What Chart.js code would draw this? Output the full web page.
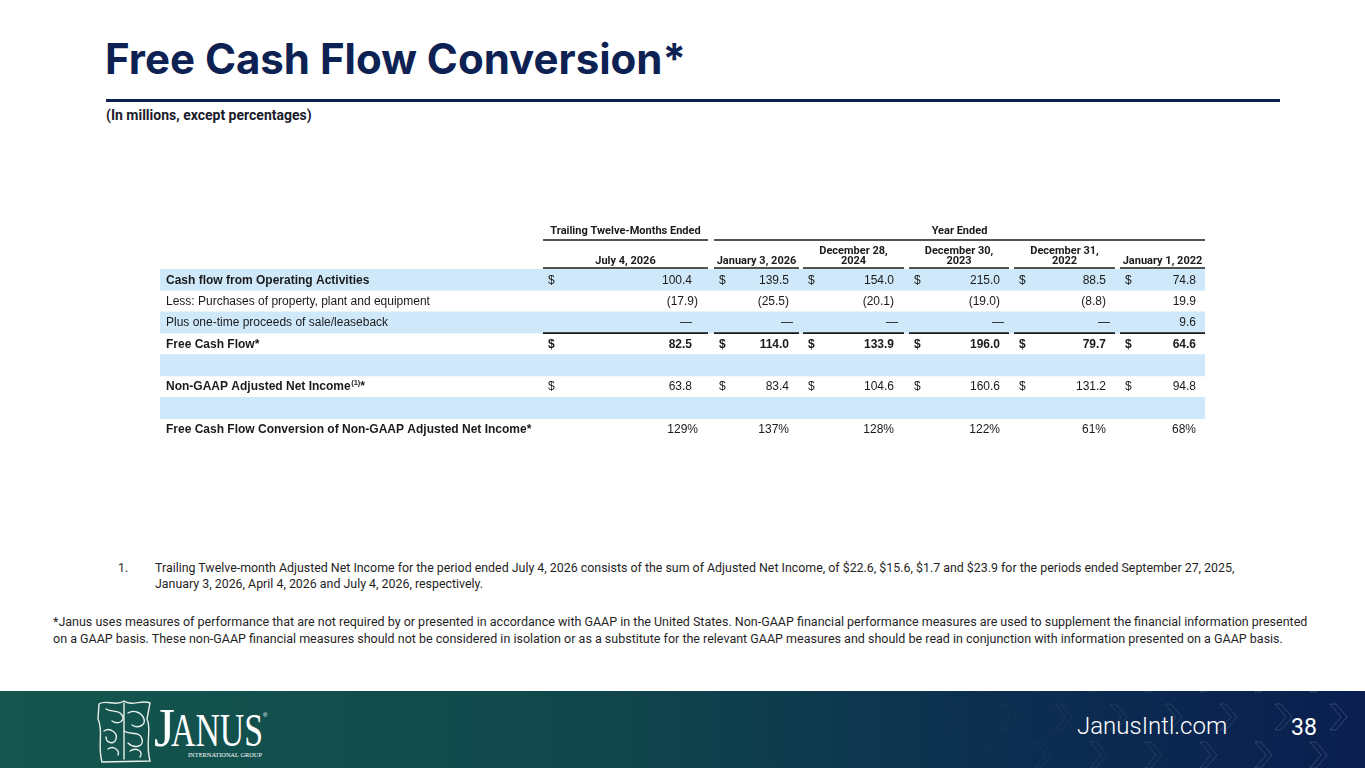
<!DOCTYPE html>
<html>
<head>
<meta charset="utf-8">
<title>Free Cash Flow Conversion</title>
<script src="https://cdn.jsdelivr.net/npm/chart.js@4.4.1/dist/chart.umd.min.js"></script>
<style>
    html, body { margin: 0; padding: 0; }
    body { width: 1365px; height: 768px; overflow: hidden; background: #fff; position: relative; font-family: Roboto, sans-serif; color: #1f1f1f; }
    #title { position: absolute; left: 105px; top: 33px; font-family: Inter, sans-serif; font-weight: 700; font-size: 42px; color: #0d2152; white-space: nowrap; }
    #rule { position: absolute; left: 106px; top: 99px; width: 1174px; height: 3px; background: #0d2152; }
    #sub { position: absolute; left: 106px; top: 107px; font-family: Roboto, sans-serif; font-weight: 700; font-size: 14px; color: #1b1b2b; white-space: nowrap; }
    #tableWrap { position: absolute; left: 150px; top: 215px; width: 1070px; height: 235px; }
    #fn1 { position: absolute; left: 118px; top: 560px; font-size: 12.4px; line-height: 16px; white-space: nowrap; }
    #fn1 .txt { position: absolute; left: 37px; top: 0; }
    #fn2 { position: absolute; left: 53px; top: 613px; font-size: 12.5px; line-height: 17px; white-space: nowrap; }
    #footer { position: absolute; left: 0; top: 691px; }
</style>
</head>
<body>
<div id="title">Free Cash Flow Conversion*</div>
<div id="rule"></div>
<div id="sub">(In millions, except percentages)</div>

<div id="tableWrap"><canvas id="fcfTable"></canvas></div>

<div id="fn1"><span class="num">1.</span><span class="txt">Trailing Twelve-month Adjusted Net Income for the period ended July 4, 2026 consists of the sum of Adjusted Net Income, of $22.6, $15.6, $1.7 and $23.9 for the periods ended September 27, 2025,<br>January 3, 2026, April 4, 2026 and July 4, 2026, respectively.</span></div>
<div id="fn2">*Janus uses measures of performance that are not required by or presented in accordance with GAAP in the United States. Non-GAAP financial performance measures are used to supplement the financial information presented<br>on a GAAP basis. These non-GAAP financial measures should not be considered in isolation or as a substitute for the relevant GAAP measures and should be read in conjunction with information presented on a GAAP basis.</div>

<svg id="footer" width="1365" height="77" viewBox="0 0 1365 77">
    <defs>
        <linearGradient id="footGrad" x1="0" x2="1" y1="0" y2="0">
            <stop offset="0" stop-color="#14574e"/>
            <stop offset="0.45" stop-color="#10464c"/>
            <stop offset="0.72" stop-color="#0c2f50"/>
            <stop offset="1" stop-color="#0a1f50"/>
        </linearGradient>
    </defs>
    <rect x="0" y="0" width="1365" height="77" fill="url(#footGrad)"/>
    <g id="chevrons" fill="none" stroke-width="1"></g>
    <g fill="none" stroke="#e8eeea" stroke-width="1.4" stroke-linecap="round">
        <path d="M99,13 C106,8 116,16 124,10 C132,16 142,8 150,12 L147,28 C152,38 145,52 150,70 L102,71 C97,54 104,40 98,28 Z"/>
        <path d="M106,18 C112,22 118,18 122,24 C126,30 118,34 112,30"/>
        <path d="M128,22 C134,18 142,22 144,28 C146,34 138,38 132,34"/>
        <path d="M104,40 C110,36 118,42 116,48 C114,54 106,52 106,46"/>
        <path d="M124,40 C130,44 140,40 142,48 C144,56 134,58 128,52"/>
        <path d="M108,58 C114,54 120,60 118,64 M130,60 C136,56 144,60 140,66"/>
        <path d="M124,12 L124,68"/>
    </g>
    <text x="154" y="55" font-family="Liberation Serif, serif" font-size="54" fill="#ffffff">J</text>
    <text x="171" y="55" font-family="Liberation Serif, serif" font-size="47" fill="#ffffff" textLength="92" lengthAdjust="spacingAndGlyphs">ANUS</text>
    <text x="263" y="26" font-family="Liberation Sans, sans-serif" font-size="6" fill="#ffffff">®</text>
    <text x="188" y="66" font-family="Liberation Serif, serif" font-size="6.2" fill="#ffffff" textLength="74" lengthAdjust="spacingAndGlyphs">INTERNATIONAL GROUP</text>
    <text x="1077" y="43" font-family="Roboto, sans-serif" font-weight="300" font-size="24" fill="#ffffff">JanusIntl.com</text>
    <text x="1291" y="44" font-family="Roboto, sans-serif" font-weight="400" font-size="23" fill="#ffffff">38</text>
</svg>

<script>
// ---- data (in millions) ----
const rowLabels = [
    'Cash flow from Operating Activities',
    'Less: Purchases of property, plant and equipment',
    'Plus one-time proceeds of sale/leaseback',
    'Free Cash Flow*',
    '',
    'Non-GAAP Adjusted Net Income',
    '',
    'Free Cash Flow Conversion of Non-GAAP Adjusted Net Income*'
];
const periodGroups = ['Trailing Twelve-Months Ended', 'Year Ended'];
const periodLabels = [
    ['July 4, 2026'],
    ['January 3, 2026'],
    ['December 28,', '2024'],
    ['December 30,', '2023'],
    ['December 31,', '2022'],
    ['January 1, 2022']
];
const cashFromOps = [100.4, 139.5, 154.0, 215.0, 88.5, 74.8];
const capexPurchases = [-17.9, -25.5, -20.1, -19.0, -8.8, 19.9];
const saleLeaseback = [null, null, null, null, null, 9.6];
const freeCashFlow = [82.5, 114.0, 133.9, 196.0, 79.7, 64.6];
const adjNetIncome = [63.8, 83.4, 104.6, 160.6, 131.2, 94.8];
const fcfConversion = [129, 137, 128, 122, 61, 68];

const rowValues = [cashFromOps, capexPurchases, saleLeaseback, freeCashFlow, null, adjNetIncome, null, fcfConversion];

// ---- layout (table units, 1 unit = 1px) ----
const TABLE_W = 1045;
const colSpans = [[383, 548], [554, 639], [643, 744], [749, 849], [854, 955], [960, 1045]];
const groupCols = [[0, 0], [1, 5]];
const valuePad = [16, 10, 10, 9, 9, 9];
const hang = [6, 0, 0, 0, 0, 0];
const shadedRows = [0, 2, 4, 6];
const dollarRows = [0, 3, 5];
const boldLabelRows = [0, 3, 5, 7];
const boldValueRows = [3];
const percentRows = [7];
const ruleAfterRow = 2;

const INK = '#1a1a1a';
const BAND = '#cfe9fa';
const BODY_FONT = '12px "Liberation Sans", Arial, sans-serif';
const BODY_BOLD = 'bold 12px "Liberation Sans", Arial, sans-serif';
const HEAD_FONT = 'bold 11px Roboto, sans-serif';

function fmtValue(v, pct) {
    if (v === null || v === undefined) return '\u2014';
    if (pct) return v + '%';
    if (v < 0) return '(' + Math.abs(v).toFixed(1) + ')';
    return v.toFixed(1);
}

const tablePlugin = {
    id: 'tableText',
    afterDatasetsDraw(chart) {
        const ctx = chart.ctx;
        const xs = chart.scales.x;
        const ys = chart.scales.y;
        const top = chart.chartArea.top;
        const rowH = ys.getPixelForValue(1) - ys.getPixelForValue(0);
        ctx.save();
        ctx.fillStyle = INK;
        ctx.strokeStyle = INK;
        ctx.textBaseline = 'middle';

        // group headers
        ctx.font = HEAD_FONT;
        groupCols.forEach((g, gi) => {
            const x0 = xs.getPixelForValue(colSpans[g[0]][0]);
            const x1 = xs.getPixelForValue(colSpans[g[1]][1]);
            ctx.textAlign = 'center';
            ctx.fillText(periodGroups[gi], (x0 + x1) / 2, top - 37.5);
            ctx.lineWidth = 1.3;
            ctx.beginPath();
            ctx.moveTo(x0, top - 29);
            ctx.lineTo(x1, top - 29);
            ctx.stroke();
        });

        // period headers
        colSpans.forEach((c, ci) => {
            const x0 = xs.getPixelForValue(c[0]);
            const x1 = xs.getPixelForValue(c[1]);
            const lines = periodLabels[ci];
            ctx.textAlign = 'center';
            lines.forEach((t, li) => {
                ctx.fillText(t, (x0 + x1) / 2, top - 7.5 - (lines.length - 1 - li) * 10.5);
            });
            ctx.lineWidth = 1.6;
            ctx.beginPath();
            ctx.moveTo(x0, top - 1);
            ctx.lineTo(x1, top - 1);
            ctx.stroke();
            // rule above totals
            const ry = ys.getPixelForValue(ruleAfterRow) + rowH / 2;
            ctx.beginPath();
            ctx.moveTo(x0, ry);
            ctx.lineTo(x1, ry);
            ctx.stroke();
        });

        // rows
        rowLabels.forEach((label, ri) => {
            const y = ys.getPixelForValue(ri) + 0.5;
            ctx.textAlign = 'left';
            ctx.font = boldLabelRows.includes(ri) ? BODY_BOLD : BODY_FONT;
            ctx.fillText(label, xs.getPixelForValue(6), y);
            if (ri === 5) {
                let lx = xs.getPixelForValue(6) + ctx.measureText(label).width + 0.5;
                ctx.font = 'bold 7.5px "Liberation Sans", Arial, sans-serif';
                ctx.fillText('(1)', lx, y - 4);
                lx += ctx.measureText('(1)').width;
                ctx.font = BODY_BOLD;
                ctx.fillText('*', lx, y);
            }
            const vals = rowValues[ri];
            if (!vals) return;
            const pct = percentRows.includes(ri);
            vals.forEach((v, ci) => {
                const c = colSpans[ci];
                ctx.font = boldValueRows.includes(ri) ? BODY_BOLD : BODY_FONT;
                if (dollarRows.includes(ri)) {
                    ctx.textAlign = 'left';
                    ctx.fillText('$', xs.getPixelForValue(c[0] + 5), y);
                }
                const txt = fmtValue(v, pct);
                let right = c[1] - valuePad[ci];
                if (pct || (v !== null && v < 0)) right += hang[ci];
                if (v === null) right += (ci === 0 ? 0 : 4);
                ctx.textAlign = 'right';
                ctx.fillText(txt, xs.getPixelForValue(right), y);
            });
        });
        ctx.restore();
    }
};

new Chart(document.getElementById('fcfTable').getContext('2d'), {
    type: 'bar',
    data: {
        labels: rowLabels,
        datasets: [{
            label: 'bands',
            data: rowLabels.map((_, i) => shadedRows.includes(i) ? [0, TABLE_W] : null),
            backgroundColor: BAND,
            borderWidth: 0,
            borderSkipped: false,
            barPercentage: 1,
            categoryPercentage: 1,
        }]
    },
    options: {
        indexAxis: 'y',
        responsive: true,
        maintainAspectRatio: false,
        animation: false,
        events: [],
        layout: { padding: { top: 54, bottom: 10, left: 10, right: 15 } },
        scales: {
            x: { type: 'linear', min: 0, max: TABLE_W, display: false },
            y: { display: false, offset: true }
        },
        plugins: {
            legend: { display: false },
            tooltip: { enabled: false }
        }
    },
    plugins: [tablePlugin]
});

// decorative chevrons in the footer (three staggered rows)
const chevG = document.getElementById('chevrons');
[[-12, 35], [26, 0], [64, 35]].forEach(([cy, shift]) => {
    for (let x = 945 + shift; x < 1380; x += 55) {
        const a = Math.max(0.03, 0.04 + 0.2 * (x - 980) / 385);
        const p = document.createElementNS('http://www.w3.org/2000/svg', 'polygon');
        p.setAttribute('points', `${x},${cy - 13} ${x + 6},${cy - 13} ${x + 17},${cy} ${x + 6},${cy + 13} ${x},${cy + 13} ${x + 11},${cy}`);
        p.setAttribute('stroke', `rgba(190,210,235,${a.toFixed(3)})`);
        chevG.appendChild(p);
    }
});
</script>
</body>
</html>
